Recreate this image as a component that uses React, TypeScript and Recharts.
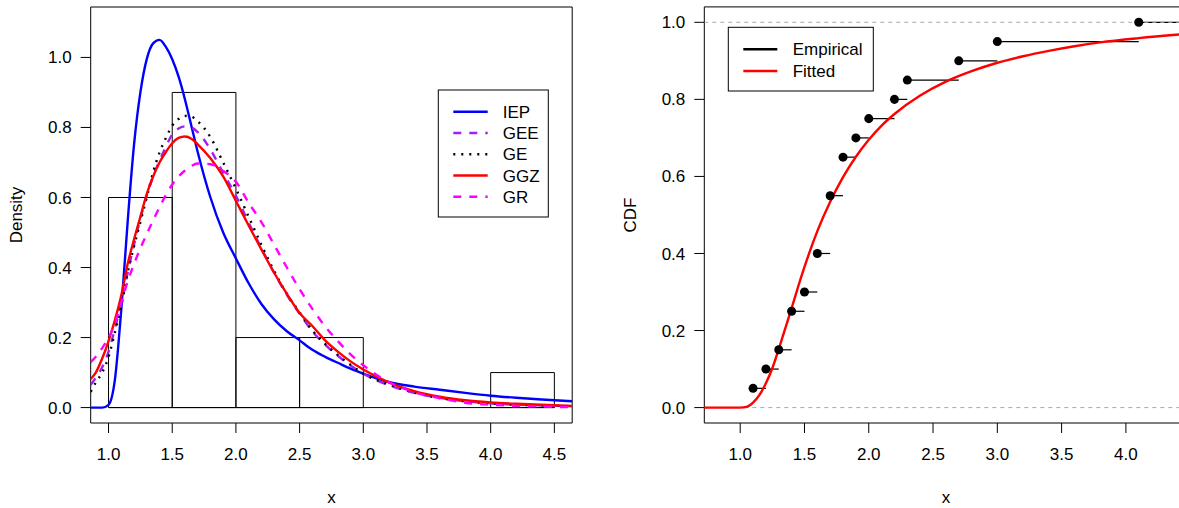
import React from "react";
import { ComposedChart, Line, XAxis, YAxis, ReferenceArea, ReferenceLine, Scatter } from "recharts";

// histogram of the sample (density scale)
const binEdges = [1.0, 1.5, 2.0, 2.5, 3.0, 3.5, 4.0, 4.5];
const binDensity = [0.6, 0.9, 0.2, 0.2, 0, 0, 0.1];

// fitted densities
const densX = [0.86, 0.9, 0.95, 1.0, 1.05, 1.1, 1.15, 1.2, 1.25, 1.3, 1.35, 1.4, 1.45, 1.5, 1.55, 1.6, 1.65, 1.7, 1.8, 1.9, 2.0, 2.1, 2.2, 2.3, 2.4, 2.5, 2.6, 2.7, 2.8, 2.9, 3.0, 3.2, 3.4, 3.6, 3.8, 4.0, 4.2, 4.4, 4.64];
const iepY = [0, 0, 0, 0.008, 0.08, 0.28, 0.53, 0.75, 0.9, 0.995, 1.04, 1.05, 1.03, 0.995, 0.945, 0.88, 0.805, 0.73, 0.6, 0.5, 0.426, 0.355, 0.296, 0.252, 0.218, 0.192, 0.165, 0.145, 0.128, 0.111, 0.097, 0.073, 0.06, 0.051, 0.042, 0.034, 0.028, 0.023, 0.018];
const geeY = [0.065, 0.085, 0.115, 0.16, 0.225, 0.3, 0.385, 0.465, 0.54, 0.605, 0.66, 0.705, 0.745, 0.78, 0.797, 0.803, 0.8, 0.787, 0.737, 0.67, 0.605, 0.528, 0.455, 0.385, 0.322, 0.268, 0.218, 0.18, 0.148, 0.12, 0.097, 0.064, 0.042, 0.028, 0.018, 0.012, 0.008, 0.006, 0.004];
const geY = [0.045, 0.072, 0.1, 0.145, 0.215, 0.29, 0.385, 0.46, 0.53, 0.6, 0.672, 0.728, 0.77, 0.805, 0.824, 0.833, 0.831, 0.818, 0.772, 0.7, 0.625, 0.545, 0.465, 0.39, 0.325, 0.272, 0.22, 0.182, 0.15, 0.122, 0.097, 0.066, 0.043, 0.027, 0.018, 0.012, 0.008, 0.006, 0.004];
const ggzY = [0.082, 0.1, 0.14, 0.19, 0.25, 0.32, 0.41, 0.48, 0.545, 0.61, 0.66, 0.7, 0.73, 0.755, 0.77, 0.774, 0.768, 0.752, 0.712, 0.66, 0.59, 0.52, 0.452, 0.385, 0.325, 0.27, 0.233, 0.192, 0.16, 0.132, 0.109, 0.072, 0.047, 0.031, 0.021, 0.015, 0.011, 0.008, 0.005];
const grY = [0.13, 0.145, 0.17, 0.2, 0.24, 0.3, 0.36, 0.41, 0.455, 0.495, 0.535, 0.572, 0.607, 0.637, 0.66, 0.677, 0.69, 0.697, 0.695, 0.676, 0.645, 0.585, 0.53, 0.465, 0.4, 0.338, 0.282, 0.232, 0.19, 0.152, 0.121, 0.073, 0.044, 0.027, 0.014, 0.008, 0.005, 0.003, 0.001];

// empirical cdf steps and fitted cdf
const ecdfX = [1.1, 1.2, 1.3, 1.4, 1.5, 1.6, 1.7, 1.8, 1.9, 2.0, 2.2, 2.3, 2.7, 3.0, 4.1];
const ecdfY = [0.05, 0.1, 0.15, 0.25, 0.3, 0.4, 0.55, 0.65, 0.7, 0.75, 0.8, 0.85, 0.9, 0.95, 1.0];
const cdfX = [0.72, 0.9, 1.0, 1.05, 1.1, 1.15, 1.2, 1.25, 1.3, 1.35, 1.4, 1.45, 1.5, 1.6, 1.7, 1.8, 1.9, 2.0, 2.1, 2.2, 2.4, 2.6, 2.8, 3.0, 3.2, 3.4, 3.6, 3.8, 4.1, 4.48];
const cdfY = [0, 0, 0, 0.002, 0.013, 0.033, 0.063, 0.102, 0.152, 0.205, 0.258, 0.313, 0.365, 0.458, 0.534, 0.598, 0.651, 0.695, 0.732, 0.762, 0.81, 0.846, 0.873, 0.895, 0.912, 0.926, 0.938, 0.948, 0.959, 0.97];

const leftXTicks = [1, 1.5, 2, 2.5, 3, 3.5, 4, 4.5];
const rightXTicks = [1, 1.5, 2, 2.5, 3, 3.5, 4];
const yTicks = [0, 0.2, 0.4, 0.6, 0.8, 1.0];

const densityNames = ["IEP", "GEE", "GE", "GGZ", "GR"];
const cdfNames = ["Empirical", "Fitted"];

const FONT = '"Liberation Sans", Arial, Helvetica, sans-serif';

const seriesStyle: Record<string, { stroke: string; dash?: string }> = {
  IEP: { stroke: "#0000FF" },
  GEE: { stroke: "#A020F0", dash: "8 8" },
  GE: { stroke: "#000000", dash: "2 6" },
  GGZ: { stroke: "#FF0000" },
  GR: { stroke: "#FF00FF", dash: "8 8" },
  Empirical: { stroke: "#000000" },
  Fitted: { stroke: "#FF0000" },
};

const toPoints = (xs: number[], ys: number[]) => xs.map((x, i) => ({ x, y: ys[i] }));

const densitySeries: Record<string, number[]> = { IEP: iepY, GEE: geeY, GE: geY, GGZ: ggzY, GR: grY };

const LX: [number, number] = [0.86, 4.64];
const LY: [number, number] = [-0.044, 1.144];
const RX: [number, number] = [0.7208, 4.4792];
const RY: [number, number] = [-0.04, 1.04];

const tickStyle = { fill: "#000", fontSize: 17, fontFamily: FONT };
const fmt = (v: number) => v.toFixed(1);

function DensityPanel() {
  return (
    <ComposedChart width={600} height={508} margin={{ top: 7, right: 27.8, bottom: 55, left: 30.7 }}>
      <XAxis type="number" dataKey="x" domain={LX} allowDataOverflow ticks={leftXTicks} interval={0}
        tickFormatter={fmt} tick={tickStyle} tickSize={10} tickMargin={15} height={30}
        axisLine={false} tickLine={{ stroke: "#000" }} />
      <YAxis type="number" dataKey="y" domain={LY} allowDataOverflow ticks={yTicks} interval={0}
        tickFormatter={fmt} tick={tickStyle} tickSize={10} tickMargin={9} width={60}
        axisLine={false} tickLine={{ stroke: "#000" }} />
      <ReferenceArea x1={LX[0]} x2={LX[1]} y1={LY[0]} y2={LY[1]} fill="none" stroke="#000" strokeWidth={1} ifOverflow="visible" />
      {binDensity.map((d, i) =>
        d > 0 ? (
          <ReferenceArea key={"bin" + i} x1={binEdges[i]} x2={binEdges[i + 1]} y1={0} y2={d}
            fill="none" fillOpacity={0} stroke="#000" strokeWidth={1} ifOverflow="visible" />
        ) : null
      )}
      <ReferenceLine segment={[{ x: binEdges[0], y: 0 }, { x: binEdges[binEdges.length - 1], y: 0 }]}
        stroke="#000" strokeWidth={1} ifOverflow="visible" />
      {densityNames.map((n) => (
        <Line key={n} data={toPoints(densX, densitySeries[n])} dataKey="y" type="monotone"
          stroke={seriesStyle[n].stroke} strokeDasharray={seriesStyle[n].dash} strokeWidth={2.4}
          dot={false} activeDot={false} isAnimationActive={false} />
      ))}
    </ComposedChart>
  );
}

function CdfPanel() {
  const steps = ecdfX.map((x, i) => ({
    x0: x,
    x1: i < ecdfX.length - 1 ? ecdfX[i + 1] : RX[1],
    y: ecdfY[i],
  }));
  return (
    <ComposedChart width={600} height={508} margin={{ top: 6.9, right: 12.5, bottom: 55, left: 44.3 }}>
      <XAxis type="number" dataKey="x" domain={RX} allowDataOverflow ticks={rightXTicks} interval={0}
        tickFormatter={fmt} tick={tickStyle} tickSize={10} tickMargin={15} height={30}
        axisLine={false} tickLine={{ stroke: "#000" }} />
      <YAxis type="number" dataKey="y" domain={RY} allowDataOverflow ticks={yTicks} interval={0}
        tickFormatter={fmt} tick={tickStyle} tickSize={10} tickMargin={9} width={60}
        axisLine={false} tickLine={{ stroke: "#000" }} />
      <ReferenceArea x1={RX[0]} x2={RX[1]} y1={RY[0]} y2={RY[1]} fill="none" stroke="#000" strokeWidth={1} ifOverflow="visible" />
      {steps.map((s, i) => (
        <ReferenceLine key={"st" + i} segment={[{ x: s.x0, y: s.y }, { x: s.x1, y: s.y }]}
          stroke="#000" strokeWidth={1.2} ifOverflow="visible" />
      ))}
      <ReferenceLine y={0} stroke="#aaaaaa" strokeDasharray="4 4" strokeWidth={1} />
      <ReferenceLine y={1} stroke="#aaaaaa" strokeDasharray="4 4" strokeWidth={1} />
      <Scatter data={toPoints(ecdfX, ecdfY)} dataKey="y" fill="#000" isAnimationActive={false} />
      <Line data={toPoints(cdfX, cdfY)} dataKey="y" type="monotone" stroke="#FF0000" strokeWidth={2.4}
        dot={false} activeDot={false} isAnimationActive={false} />
    </ComposedChart>
  );
}

function LegendBox(props: { x: number; y: number; w: number; h: number; names: string[]; firstRow: number; rowGap: number; lineX: number; lineW: number; textX: number }) {
  const { x, y, w, h, names, firstRow, rowGap, lineX, lineW, textX } = props;
  return (
    <g>
      <rect x={x} y={y} width={w} height={h} fill="#fff" stroke="#000" strokeWidth={1} />
      {names.map((n, i) => {
        const cy = firstRow + i * rowGap;
        return (
          <g key={n}>
            <line x1={lineX} x2={lineX + lineW} y1={cy} y2={cy} stroke={seriesStyle[n].stroke}
              strokeDasharray={seriesStyle[n].dash} strokeWidth={2.4} />
            <text x={textX} y={cy + 6.1} fontSize={17} fontFamily={FONT} fill="#000">{n}</text>
          </g>
        );
      })}
    </g>
  );
}

export default function App() {
  return (
    <div style={{ position: "absolute", left: 0, top: 0, width: 1179, height: 508, overflow: "hidden", background: "#fff" }}>
      <div style={{ position: "absolute", left: 0, top: 0 }}>
        <DensityPanel />
      </div>
      <div style={{ position: "absolute", left: 600, top: 0 }}>
        <CdfPanel />
      </div>
      <svg width={1179} height={508} style={{ position: "absolute", left: 0, top: 0, pointerEvents: "none" }}>
        <text transform="translate(21.7,215) rotate(-90)" textAnchor="middle" fontSize={17} fontFamily={FONT} fill="#000">Density</text>
        <text transform="translate(635.5,215) rotate(-90)" textAnchor="middle" fontSize={17} fontFamily={FONT} fill="#000">CDF</text>
        <text x={331.5} y={503} textAnchor="middle" fontSize={17} fontFamily={FONT} fill="#000">x</text>
        <text x={945.9} y={503} textAnchor="middle" fontSize={17} fontFamily={FONT} fill="#000">x</text>
        <LegendBox x={438.3} y={90} w={110} h={127} names={densityNames} firstRow={111.7} rowGap={21.25}
          lineX={453.3} lineW={34.4} textX={502.7} />
        <LegendBox x={728.3} y={27.3} w={145} h={63.7} names={cdfNames} firstRow={49.3} rowGap={21.7}
          lineX={743.3} lineW={34} textX={792.7} />
      </svg>
    </div>
  );
}
